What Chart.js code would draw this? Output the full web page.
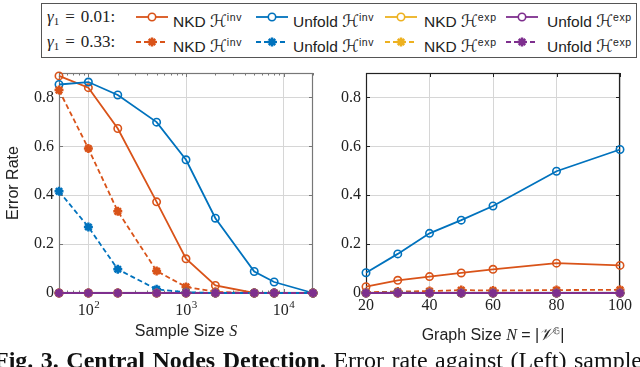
<!DOCTYPE html>
<html lang="en">
<head>
<meta charset="UTF-8" />
<title>Central Nodes Detection</title>
<script src="https://cdn.jsdelivr.net/npm/chart.js@4"></script>
<style>
  body { margin: 0; width: 640px; height: 367px; overflow: hidden; background: #fff; position: relative;
         font-family: "Liberation Sans", Arial, sans-serif; color: #222; }
  canvas.plot { position: absolute; top: 0; }
  #left { left: 0; }
  #right { left: 320px; }
  #legend { position: absolute; left: 41px; top: 3px; width: 594px; height: 53px; border: 1px solid #555; background: #fff; }
  #legend .item { position: absolute; font-size: 15.5px; white-space: nowrap; line-height: 18px; }
  #legend .pre { font-family: "Liberation Serif", serif; font-size: 17px; }
  #legend canvas { position: absolute; }
  #legend sup { font-size: 10.5px; vertical-align: 6px; letter-spacing: 0.6px; }
  .m { font-family: "Liberation Serif", serif; font-style: italic; }
  .cal { font-family: "DejaVu Serif", "DejaVu Sans", serif; font-style: italic; font-size: 17px; }
  sup { font-size: 9px; vertical-align: 6px; }
  sub { font-size: 11px; vertical-align: -3px; }
  .xt { position: absolute; top: 322px; width: 240px; text-align: center; font-size: 16px; line-height: 18px; white-space: nowrap; }
  #caption { position: absolute; left: -6px; top: 348px; width: 660px; font-family: "Liberation Serif", serif;
             font-size: 24px; line-height: 24px; white-space: nowrap; overflow: hidden; color: #111; word-spacing: 1.5px; }
</style>
</head>
<body>
<canvas id="left" class="plot" width="320" height="345"></canvas>
<canvas id="right" class="plot" width="320" height="345"></canvas>
<div id="legend"></div>
<div class="xt" style="left:66px">Sample Size <span class="m">S</span></div>
<div class="xt" style="left:373px">Graph Size <span class="m">N</span> = |<span class="cal">𝒱</span><sup>𝔾</sup>|</div>
<div id="caption"><b>Fig. 3. Central Nodes Detection.</b> Error rate against (Left) sample size</div>

<script>
// x values
const sampleSizes = [50, 100, 200, 500, 1000, 2000, 5000, 8000, 20000];
const graphSizes = [20, 30, 40, 50, 60, 80, 100];

// left panel, gamma1 = 0.01 (solid)
const sNkdInv01    = [0.888, 0.840, 0.673, 0.373, 0.140, 0.031, 0, 0, 0];
const sUnfoldInv01 = [0.853, 0.863, 0.810, 0.699, 0.545, 0.306, 0.088, 0.045, 0];
const sNkdExp01    = [0, 0, 0, 0, 0, 0, 0, 0, 0];
const sUnfoldExp01 = [0, 0, 0, 0, 0, 0, 0, 0, 0];
// left panel, gamma1 = 0.33 (dashed)
const sNkdInv33    = [0.830, 0.591, 0.334, 0.090, 0.025, 0.005, 0, 0, 0];
const sUnfoldInv33 = [0.416, 0.270, 0.097, 0.015, 0.003, 0, 0, 0, 0];
const sNkdExp33    = [0, 0, 0, 0, 0, 0, 0, 0, 0];
const sUnfoldExp33 = [0, 0, 0, 0, 0, 0, 0, 0, 0];

// right panel, gamma1 = 0.01 (solid)
const gNkdInv01    = [0.026, 0.052, 0.067, 0.082, 0.097, 0.122, 0.113];
const gUnfoldInv01 = [0.083, 0.160, 0.244, 0.298, 0.356, 0.498, 0.587];
const gNkdExp01    = [0, 0, 0, 0, 0, 0, 0];
const gUnfoldExp01 = [0, 0, 0, 0, 0, 0, 0];
// right panel, gamma1 = 0.33 (dashed)
const gNkdInv33    = [0.003, 0.006, 0.008, 0.012, 0.010, 0.012, 0.013];
const gUnfoldInv33 = [0, 0.002, 0, 0, 0, 0, 0];
const gNkdExp33    = [0, 0, 0, 0, 0, 0, 0];
const gUnfoldExp33 = [0, 0, 0, 0, 0, 0, 0];

// legend / ticks
const methods = ['NKD', 'Unfold', 'NKD', 'Unfold'];
const spaces = ['inv', 'inv', 'exp', 'exp'];
const gammas = ['0.01', '0.33'];
const colors = ['#D95319', '#0072BD', '#EDB120', '#7E2F8E'];
const sampleMajor = [100, 1000, 10000];
const sampleExp = ['2', '3', '4'];

const serif = 'Liberation Serif';

function series(xs, lists, dashed) {
  return lists.map((ys, i) => ({
    data: xs.map((x, k) => ({ x: x, y: ys[k] })),
    borderColor: colors[i],
    backgroundColor: colors[i],
    borderWidth: 1.8,
    borderDash: dashed ? [5, 3] : [],
    pointStyle: dashed ? 'star' : 'circle',
    pointRadius: dashed ? 4.5 : 3.7,
    pointBorderWidth: dashed ? 2.5 : 1.6,
    pointBorderColor: colors[i],
    pointBackgroundColor: dashed ? colors[i] : 'rgba(0,0,0,0)',
    tension: 0,
    clip: false
  }));
}

function withOrder(ds) {
  ds.forEach((d, i) => { d.order = ds.length - i; });
  return ds;
}

// box with inward tick marks, drawn under the data
const frame = {
  id: 'frame',
  beforeDatasetsDraw(chart, args, opts) {
    const { ctx, chartArea: a, scales: { x, y } } = chart;
    ctx.save();
    ctx.strokeStyle = opts.color;
    ctx.lineWidth = 1;
    ctx.beginPath();
    x.ticks.forEach(t => {
      const px = Math.round(x.getPixelForValue(t.value)) + 0.5;
      const len = t.major === false ? 2.5 : 4;
      ctx.moveTo(px, a.bottom); ctx.lineTo(px, a.bottom - len);
      ctx.moveTo(px, a.top); ctx.lineTo(px, a.top + len);
    });
    y.ticks.forEach(t => {
      const py = Math.round(y.getPixelForValue(t.value)) + 0.5;
      ctx.moveTo(a.left, py); ctx.lineTo(a.left + 4, py);
      ctx.moveTo(a.right, py); ctx.lineTo(a.right - 4, py);
    });
    ctx.stroke();
    ctx.lineWidth = 1.2;
    ctx.strokeRect(Math.round(a.left) + 0.5, Math.round(a.top) + 0.5,
                   Math.round(a.width) - 1, Math.round(a.height) - 1);
    ctx.restore();
  }
};

// 10^k labels for the log axis
const powerLabels = {
  id: 'powerLabels',
  afterDraw(chart) {
    if (chart.canvas.id !== 'left') return;
    const { ctx, scales: { x } } = chart;
    ctx.save();
    ctx.fillStyle = '#222';
    ctx.textBaseline = 'alphabetic';
    sampleMajor.forEach((v, i) => {
      const px = x.getPixelForValue(v);
      ctx.font = '16px "' + serif + '"';
      const w1 = ctx.measureText('10').width;
      ctx.font = '11px "' + serif + '"';
      const w2 = ctx.measureText(sampleExp[i]).width;
      const x0 = px - (w1 + w2) / 2;
      ctx.font = '16px "' + serif + '"';
      ctx.fillText('10', x0, 315);
      ctx.font = '11px "' + serif + '"';
      ctx.fillText(sampleExp[i], x0 + w1 + 0.5, 308);
    });
    ctx.restore();
  }
};

const yAxis = (showTitle, width) => ({
  min: 0, max: 0.9,
  afterFit: s => { s.width = width; },
  border: { display: false },
  grid: { color: '#d6d6d6', lineWidth: 1, drawTicks: false },
  ticks: {
    stepSize: 0.2, includeBounds: false, padding: 5, color: '#222',
    font: { family: serif, size: 16 },
    callback: v => (v === 0 ? '0' : v.toFixed(1))
  },
  title: {
    display: showTitle, text: 'Error Rate', color: '#222',
    font: { family: 'Liberation Sans', size: 16 }, padding: { top: 4, bottom: 0 }
  }
});

function makeChart(id, xScale, datasets, showTitle, yWidth, rightPad, frameColor) {
  return new Chart(document.getElementById(id), {
    type: 'line',
    data: { datasets: datasets },
    options: {
      responsive: false,
      animation: false,
      devicePixelRatio: 1,
      events: [],
      layout: { padding: { top: 73, right: rightPad, left: 0, bottom: 0 } },
      plugins: { legend: { display: false }, tooltip: { enabled: false }, frame: { color: frameColor } },
      scales: { x: xScale, y: yAxis(showTitle, yWidth) }
    },
    plugins: [frame, powerLabels]
  });
}

const leftMinor = [];
[10, 100, 1000, 10000].forEach(d => {
  for (let k = 1; k <= 9; k++) {
    const v = d * k;
    if (v >= 50 && v <= 20000) leftMinor.push(v);
  }
});

makeChart('left', {
  type: 'logarithmic', min: 50, max: 20000,
  afterFit: s => { s.height = 52; },
  afterBuildTicks: s => {
    s.ticks = leftMinor.map(v => ({ value: v, major: sampleMajor.includes(v) }));
  },
  border: { display: false },
  grid: { drawTicks: false, color: c => (c.tick && sampleMajor.includes(c.tick.value) ? '#d6d6d6' : 'rgba(0,0,0,0)') },
  ticks: { autoSkip: false, maxRotation: 0, callback: () => '', font: { family: serif, size: 16 } }
}, withOrder(series(sampleSizes, [sNkdInv01, sUnfoldInv01, sNkdExp01, sUnfoldExp01], false)
  .concat(series(sampleSizes, [sNkdInv33, sUnfoldInv33, sNkdExp33, sUnfoldExp33], true))),
  true, 59, 7, '#777');

makeChart('right', {
  type: 'linear', min: 20, max: 100,
  afterFit: s => { s.height = 52; },
  border: { display: false },
  grid: { drawTicks: false, color: '#d6d6d6' },
  ticks: { stepSize: 20, padding: 3, color: '#222', maxRotation: 0, font: { family: serif, size: 16 } }
}, withOrder(series(graphSizes, [gNkdInv01, gUnfoldInv01, gNkdExp01, gUnfoldExp01], false)
  .concat(series(graphSizes, [gNkdInv33, gUnfoldInv33, gNkdExp33, gUnfoldExp33], true))),
  false, 46, 20, '#222');

// legend
const legend = document.getElementById('legend');
const rowMid = [13, 38];
const sampleX = [93, 213, 342, 463];
const textX = [131, 251, 382, 505];

function drawSample(cv, color, dashed) {
  const ctx = cv.getContext('2d');
  ctx.strokeStyle = color; ctx.fillStyle = color; ctx.lineWidth = 1.8;
  ctx.setLineDash(dashed ? [5, 3] : []);
  ctx.beginPath(); ctx.moveTo(1, 7); ctx.lineTo(33, 7); ctx.stroke();
  ctx.setLineDash([]);
  if (dashed) ctx.lineWidth = 2.5; else { ctx.lineWidth = 1.6; ctx.fillStyle = '#fff'; }
  Chart.helpers.drawPoint(ctx, { pointStyle: dashed ? 'star' : 'circle', radius: dashed ? 4.5 : 3.7, rotation: 0, borderWidth: ctx.lineWidth }, 17, 7);
}

gammas.forEach((g, r) => {
  const pre = document.createElement('div');
  pre.className = 'item pre';
  pre.style.left = '5px';
  pre.style.top = (rowMid[r] - 9) + 'px';
  pre.innerHTML = '<i>γ</i><sub>1</sub><span style="margin:0 6px">=</span>' + g + ':';
  legend.appendChild(pre);
  methods.forEach((m, c) => {
    const cv = document.createElement('canvas');
    cv.width = 34; cv.height = 14;
    cv.style.left = sampleX[c] + 'px';
    cv.style.top = (rowMid[r] - 7) + 'px';
    legend.appendChild(cv);
    drawSample(cv, colors[c], r === 1);
    const t = document.createElement('div');
    t.className = 'item';
    t.style.left = textX[c] + 'px';
    t.style.top = (rowMid[r] - 9) + 'px';
    t.innerHTML = m + ' <span class="cal">ℋ</span><sup>' + spaces[c] + '</sup>';
    legend.appendChild(t);
  });
});
</script>
</body>
</html>
